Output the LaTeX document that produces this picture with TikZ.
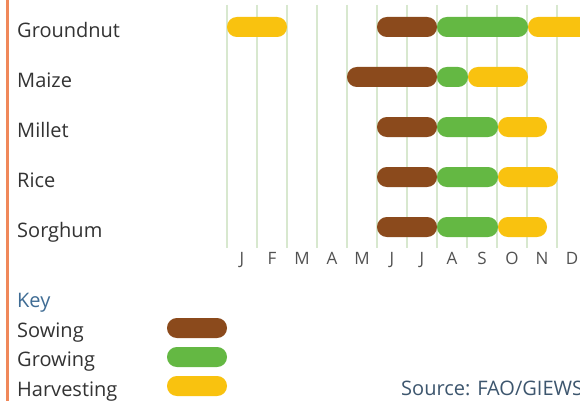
\documentclass[tikz,border=0pt]{standalone}
\usepackage{fontspec}
\setmainfont{Open Sans}
\definecolor{sowc}{HTML}{8B4A1C}
\definecolor{growc}{HTML}{64B843}
\definecolor{harvc}{HTML}{F9C20F}
\definecolor{gridc}{HTML}{D8E8CF}
\definecolor{txt}{HTML}{333333}
\definecolor{keyc}{HTML}{3F6C94}
\definecolor{srcc}{HTML}{3D566E}
\definecolor{edgec}{HTML}{F0885A}
\newcommand\cropbar[4]{\fill[#1, rounded corners=9.9pt] (#2,#4-10) rectangle (#3,#4+10);}
\begin{document}
\begin{tikzpicture}[x=1pt,y=-1pt,
  lbl/.style={anchor=base west, inner sep=0pt, text=txt, font=\fontsize{20}{24}\selectfont},
  mon/.style={anchor=base, inner sep=0pt, text=txt!85, font=\fontsize{17}{20}\selectfont}]
\useasboundingbox (0,0) rectangle (580,401);
\fill[white] (0,0) rectangle (580,401);
\clip (0,0) rectangle (580,401);
\draw[edgec, line width=3pt] (7,0) -- (7,401);
\foreach \k in {0,...,12} \draw[gridc, line width=2pt] (227+30*\k,5) -- (227+30*\k,248);
% Groundnut
\cropbar{harvc}{227}{287}{27}
\cropbar{sowc}{377}{437}{27}
\cropbar{growc}{437}{528}{27}
\cropbar{harvc}{528}{600}{27}
% Maize
\cropbar{sowc}{347}{437}{77}
\cropbar{growc}{437}{468}{77}
\cropbar{harvc}{468}{528}{77}
% Millet
\cropbar{sowc}{377}{437}{127}
\cropbar{growc}{437}{498}{127}
\cropbar{harvc}{498}{547}{127}
% Rice
\cropbar{sowc}{377}{437}{177}
\cropbar{growc}{437}{498}{177}
\cropbar{harvc}{498}{558}{177}
% Sorghum
\cropbar{sowc}{377}{437}{227}
\cropbar{growc}{437}{498}{227}
\cropbar{harvc}{498}{547}{227}
\node[lbl] (gn) at (17,37.5) {Groundnut};
\node[lbl] (mz) at (17,87.5) {Maize};
\node[lbl] (ml) at (17,137.5) {Millet};
\node[lbl] (rc) at (17,187.5) {Rice};
\node[lbl] (sg) at (17,237.5) {Sorghum};
\foreach \m [count=\i from 0] in {J,F,M,A,M,J,J,A,S,O,N,D}
  \node[mon] (m\i) at (242+30*\i,264) {\m};
\node[lbl, text=keyc] (key) at (17,307) {Key};
\node[lbl] (ks) at (17,337) {Sowing};
\node[lbl] (kg) at (17,366) {Growing};
\node[lbl] (kh) at (17,396) {Harvesting};
\cropbar{sowc}{167}{227}{328}
\cropbar{growc}{167}{227}{357}
\cropbar{harvc}{167}{227}{386}
\node[lbl, text=srcc] (src) at (401,395.5) {Source: FAO/GIEWS};
\end{tikzpicture}
\end{document}
